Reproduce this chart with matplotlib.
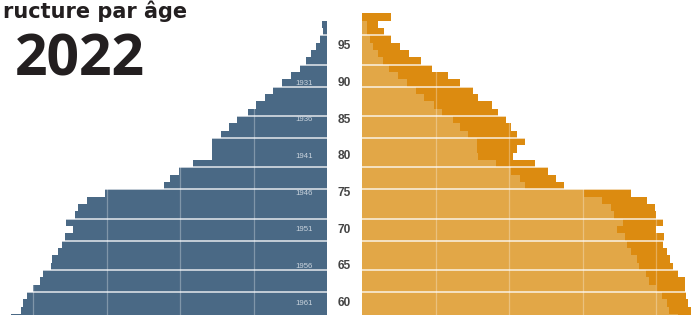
import matplotlib.pyplot as plt
from matplotlib import transforms

# Ages (one bar per year) and counts
ages = list(range(58, 100))
# men, from age 58 up to 99
men = [430, 417, 414, 408, 400, 390, 386, 376, 374, 366,
       360, 357, 346, 355, 343, 339, 326, 302, 222, 214,
       202, 182, 157, 156, 156, 144, 133, 123, 108, 97,
       84, 73, 61, 49, 37, 28, 22, 15, 10, 6,
       7, 0]
# women, from age 58 up to 99
women = [452, 447, 443, 441, 439, 439, 430, 423, 419, 415,
         409, 411, 400, 409, 400, 398, 387, 365, 274, 264,
         253, 235, 205, 211, 221, 210, 202, 195, 185, 176,
         158, 151, 133, 117, 95, 80, 63, 51, 39, 29,
         22, 39]

label_ages = [60, 65, 70, 75, 80, 85, 90, 95]
year_ages = [60, 65, 70, 75, 80, 85, 90]
year_labels = ['1961', '1956', '1951', '1946', '1941', '1936', '1931']
separator_ages = [61.5, 64.5, 68.5, 71.5, 75.5, 78.5, 82.5, 85.5, 89.5, 92.5, 96.5]
grid_values = [100, 200, 300, 400]

blue = '#4a6985'
light_orange = '#e2a747'
dark_orange = '#dc8b10'

W, H = 691, 315
fig = plt.figure(figsize=(W / 100, H / 100), dpi=100)

ymin, ymax = 58.37, 101.34

# left half : men
ax_l = fig.add_axes([0, 0, 327 / W, 1])
ax_l.barh(ages, men, height=1.0, color=blue, linewidth=0)
ax_l.set_xlim(327 / 0.735, 0)

# right half : women, with the men profile mirrored on top
ax_r = fig.add_axes([362.3 / W, 0, 1 - 362.3 / W, 1])
ax_r.barh(ages, women, height=1.0, color=dark_orange, linewidth=0)
ax_r.barh(ages, men, height=1.0, color=light_orange, linewidth=0)
ax_r.set_xlim(0, (W - 362.3) / 0.735)

for ax in (ax_l, ax_r):
    ax.set_ylim(ymin, ymax)
    ax.axis('off')
    for v in grid_values:
        ax.axvline(v, color='white', alpha=0.3, lw=0.9, zorder=3)
    for a in separator_ages:
        ax.axhline(a, color='white', alpha=0.85, lw=1.1, zorder=4)

# birth years written inside the men bars
for a, yr in zip(year_ages, year_labels):
    ax_l.text(31, a, yr, ha='center', va='center', fontsize=5.6,
              color='#c9d3dd', family='Liberation Sans', zorder=5)

# ages in the middle column
trans = transforms.blended_transform_factory(fig.transFigure, ax_r.transData)
for a in label_ages:
    ax_r.text(344.5 / W, a, str(a), transform=trans, ha='center', va='center',
              fontsize=8.6, color='#444444', family='Liberation Sans',
              weight='bold', clip_on=False)

# titles (only the visible part of the first line, as in the cropped original)
fig.text(187 / W, 1 - 18.5 / H, 'ructure par âge', ha='right', va='baseline',
         fontsize=15, weight='bold', color='#231f20', family='DejaVu Sans')
fig.text(80 / W, 1 - 75 / H, '2022', ha='center', va='baseline',
         fontsize=41, weight='bold', color='#231f20', family='Open Sans')

fig.savefig('out.png', dpi=100)
